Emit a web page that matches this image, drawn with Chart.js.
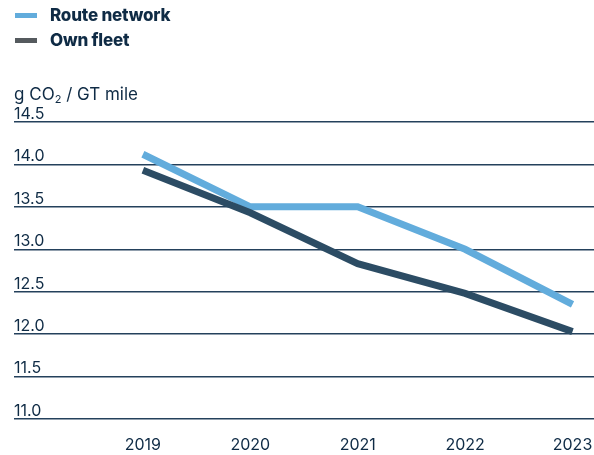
<!DOCTYPE html>
<html>
<head>
<meta charset="utf-8">
<script src="https://cdn.jsdelivr.net/npm/chart.js@4/dist/chart.umd.min.js"></script>
<style>
  body { margin: 0; background: #fff; font-family: Inter, "Noto Sans", sans-serif; color: #0f2b45; }
  #wrap { position: relative; width: 594px; height: 455px; }
  #chart { position: absolute; left: 0; top: 0; }
  .legend { position: absolute; left: 15px; font-weight: 800; font-size: 17px; line-height: 20px; letter-spacing: -0.2px; }
  .legend i { display: inline-block; width: 22px; height: 5px; margin-right: 13px; vertical-align: middle; position: relative; top: -1px; }
  #unit { position: absolute; left: 14px; top: 84px; font-size: 17px; line-height: 20px; }
  #unit sub { font-size: 11px; vertical-align: -3px; line-height: 0; }
</style>
</head>
<body>
<div id="wrap">
  <canvas id="chart" width="594" height="455"></canvas>
  <div class="legend" style="top:5px"><i style="background:#62acdc"></i>Route network</div>
  <div class="legend" style="top:30px"><i style="background:#555a5e"></i>Own fleet</div>
  <div id="unit">g CO<sub>2</sub> / GT mile</div>
</div>
<script>
var years = [2019, 2020, 2021, 2022, 2023];
var routeNetwork = [14.12, 13.5, 13.5, 13.0, 12.35];
var ownFleet = [13.93, 13.43, 12.83, 12.48, 12.03];
var yTicks = [11.0, 11.5, 12.0, 12.5, 13.0, 13.5, 14.0, 14.5];

function points(values) {
  return years.map(function (y, i) { return { x: y, y: values[i] }; });
}

// labels hang over the chart area, so the scales shouldn't reserve room for them
function noPadding(axis) {
  axis.paddingLeft = 0;
  axis.paddingRight = 0;
  axis.paddingTop = 0;
  axis.paddingBottom = 0;
}

var ctx = document.getElementById('chart').getContext('2d');
var myChart = new Chart(ctx, {
  type: 'line',
  data: {
    datasets: [{
      label: 'Own fleet',
      data: points(ownFleet),
      borderColor: '#2c4c64',
      borderWidth: 7,
      order: 0
    }, {
      label: 'Route network',
      data: points(routeNetwork),
      borderColor: '#62acdc',
      borderWidth: 7,
      order: 1
    }]
  },
  options: {
    responsive: false,
    animation: false,
    layout: { padding: { top: 122, left: 14, right: 0, bottom: 0 } },
    elements: { point: { radius: 0 }, line: { tension: 0, borderCapStyle: 'butt', borderJoinStyle: 'miter' } },
    plugins: { legend: { display: false }, tooltip: { enabled: false } },
    scales: {
      x: {
        type: 'linear',
        min: 2017.8,
        max: 2023.2,
        afterBuildTicks: function (axis) {
          axis.ticks = years.map(function (v) { return { value: v }; });
        },
        afterFit: function (axis) {
          noPadding(axis);
          axis.height = 36;
        },
        grid: { display: false, drawTicks: false },
        border: { display: false },
        ticks: {
          padding: 17,
          color: '#0f2b45',
          font: { family: 'Inter', size: 16 },
          callback: function (v) { return String(v); }
        }
      },
      y: {
        min: 11,
        max: 14.5,
        afterBuildTicks: function (axis) {
          axis.ticks = yTicks.map(function (v) { return { value: v }; });
        },
        afterFit: noPadding,
        grid: { color: '#24415c', lineWidth: 1.5, drawTicks: false },
        border: { display: false },
        ticks: {
          mirror: true,
          padding: 0,
          labelOffset: -8,
          color: '#0f2b45',
          font: { family: 'Inter', size: 16 },
          callback: function (v) { return v.toFixed(1); }
        }
      }
    }
  }
});
</script>
</body>
</html>
